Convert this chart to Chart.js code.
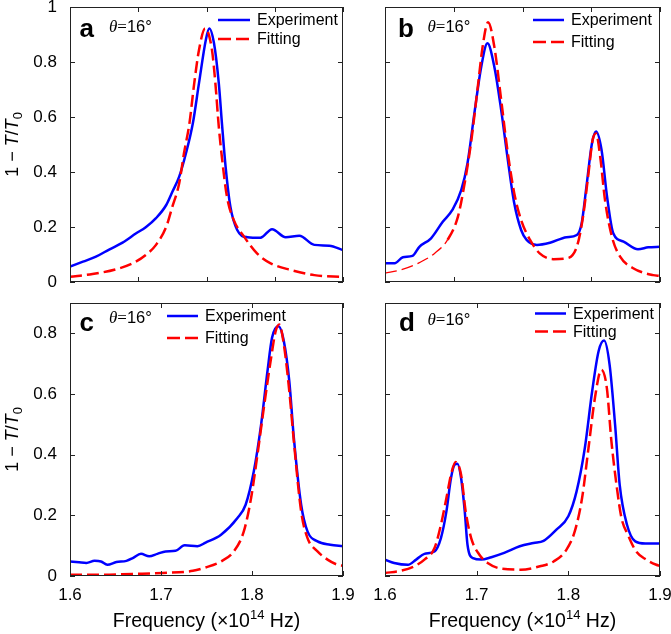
<!DOCTYPE html>
<html>
<head>
<meta charset="utf-8">
<script src="https://cdn.jsdelivr.net/npm/chart.js@4"></script>
<style>
    html, body { margin: 0; padding: 0; background: #fff; }
    #fig { position: relative; width: 671px; height: 634px; }
    #fig canvas { position: absolute; left: 0; top: 0; }
</style>
</head>
<body>
<div id="fig">
    <canvas id="chart-a" width="671" height="634"></canvas>
    <canvas id="chart-b" width="671" height="634"></canvas>
    <canvas id="chart-c" width="671" height="634"></canvas>
    <canvas id="chart-d" width="671" height="634"></canvas>
</div>
<script>
// ── data (frequency in 1e14 Hz, absorption 1 - T/T0) ──────────────────────
const aExpFreq = [1.600, 1.619, 1.638, 1.658, 1.677, 1.697, 1.711, 1.726, 1.741, 1.750, 1.760, 1.770, 1.780, 1.789, 1.799, 1.804, 1.811, 1.818, 1.823, 1.828, 1.835, 1.845, 1.860, 1.879, 1.896, 1.916, 1.936, 1.958, 1.980, 2.000];
const aExp = [0.056, 0.074, 0.092, 0.119, 0.143, 0.177, 0.199, 0.232, 0.280, 0.328, 0.383, 0.469, 0.577, 0.723, 0.880, 0.922, 0.868, 0.723, 0.565, 0.419, 0.274, 0.189, 0.163, 0.161, 0.192, 0.163, 0.168, 0.135, 0.132, 0.116];
const aFitFreq = [1.600, 1.633, 1.667, 1.692, 1.711, 1.726, 1.741, 1.750, 1.760, 1.767, 1.775, 1.782, 1.789, 1.798, 1.808, 1.813, 1.818, 1.823, 1.830, 1.840, 1.855, 1.874, 1.894, 1.923, 1.958, 2.000];
const aFit = [0.019, 0.029, 0.046, 0.068, 0.098, 0.135, 0.201, 0.274, 0.359, 0.468, 0.577, 0.722, 0.844, 0.922, 0.844, 0.723, 0.565, 0.444, 0.310, 0.225, 0.165, 0.104, 0.068, 0.044, 0.025, 0.018];

const bExpFreq = [1.600, 1.614, 1.626, 1.640, 1.650, 1.667, 1.684, 1.698, 1.711, 1.720, 1.730, 1.740, 1.749, 1.759, 1.769, 1.778, 1.788, 1.798, 1.806, 1.821, 1.840, 1.864, 1.879, 1.886, 1.893, 1.901, 1.907, 1.915, 1.923, 1.932, 1.947, 1.968, 1.983, 2.000];
const bExp = [0.068, 0.068, 0.090, 0.095, 0.128, 0.159, 0.219, 0.262, 0.335, 0.432, 0.613, 0.783, 0.868, 0.783, 0.625, 0.456, 0.286, 0.189, 0.153, 0.135, 0.143, 0.163, 0.171, 0.213, 0.347, 0.504, 0.547, 0.480, 0.310, 0.177, 0.147, 0.119, 0.126, 0.128];
const bFitFreq = [1.600, 1.623, 1.648, 1.672, 1.691, 1.706, 1.715, 1.725, 1.735, 1.742, 1.750, 1.759, 1.769, 1.778, 1.788, 1.798, 1.811, 1.825, 1.845, 1.864, 1.879, 1.888, 1.896, 1.902, 1.907, 1.913, 1.920, 1.930, 1.942, 1.961, 1.990, 2.000];
const bFit = [0.032, 0.044, 0.068, 0.104, 0.153, 0.237, 0.347, 0.504, 0.710, 0.856, 0.945, 0.856, 0.662, 0.480, 0.323, 0.225, 0.153, 0.104, 0.083, 0.086, 0.128, 0.237, 0.395, 0.516, 0.540, 0.456, 0.298, 0.165, 0.092, 0.050, 0.025, 0.022];

const cExpFreq = [1.600, 1.610, 1.618, 1.627, 1.634, 1.641, 1.651, 1.662, 1.669, 1.678, 1.687, 1.696, 1.705, 1.716, 1.726, 1.740, 1.749, 1.766, 1.784, 1.793, 1.802, 1.810, 1.817, 1.822, 1.829, 1.835, 1.841, 1.846, 1.854, 1.861, 1.872, 1.886, 1.900];
const cExp = [0.048, 0.045, 0.043, 0.050, 0.048, 0.037, 0.046, 0.050, 0.059, 0.073, 0.065, 0.073, 0.081, 0.083, 0.101, 0.098, 0.110, 0.136, 0.191, 0.235, 0.345, 0.499, 0.675, 0.785, 0.823, 0.774, 0.642, 0.455, 0.235, 0.147, 0.114, 0.103, 0.098];
const cFitFreq = [1.600, 1.632, 1.669, 1.702, 1.735, 1.749, 1.766, 1.780, 1.791, 1.799, 1.806, 1.813, 1.821, 1.826, 1.830, 1.835, 1.841, 1.846, 1.854, 1.861, 1.872, 1.883, 1.894, 1.900];
const cFit = [0.004, 0.004, 0.007, 0.010, 0.017, 0.028, 0.048, 0.081, 0.147, 0.257, 0.400, 0.554, 0.719, 0.807, 0.829, 0.763, 0.609, 0.444, 0.213, 0.125, 0.081, 0.054, 0.037, 0.034];

const dExpFreq = [1.600, 1.610, 1.625, 1.634, 1.643, 1.654, 1.661, 1.667, 1.672, 1.676, 1.679, 1.683, 1.687, 1.690, 1.696, 1.705, 1.716, 1.730, 1.747, 1.762, 1.773, 1.787, 1.800, 1.809, 1.818, 1.826, 1.833, 1.839, 1.845, 1.851, 1.856, 1.864, 1.873, 1.884, 1.900];
const dExp = [0.054, 0.043, 0.037, 0.054, 0.073, 0.081, 0.125, 0.213, 0.323, 0.367, 0.370, 0.323, 0.213, 0.103, 0.059, 0.054, 0.062, 0.076, 0.098, 0.109, 0.116, 0.153, 0.197, 0.279, 0.422, 0.609, 0.741, 0.776, 0.697, 0.499, 0.301, 0.169, 0.114, 0.107, 0.107];
const dFitFreq = [1.600, 1.617, 1.632, 1.643, 1.654, 1.661, 1.667, 1.672, 1.677, 1.683, 1.688, 1.694, 1.703, 1.712, 1.727, 1.748, 1.769, 1.784, 1.798, 1.807, 1.815, 1.822, 1.829, 1.836, 1.842, 1.847, 1.853, 1.858, 1.865, 1.874, 1.885, 1.896, 1.900];
const dFit = [0.010, 0.017, 0.032, 0.054, 0.092, 0.169, 0.257, 0.334, 0.376, 0.334, 0.213, 0.125, 0.070, 0.043, 0.024, 0.021, 0.032, 0.048, 0.087, 0.147, 0.257, 0.422, 0.587, 0.680, 0.620, 0.444, 0.290, 0.191, 0.136, 0.081, 0.054, 0.037, 0.033];

// tick positions
const xTicksTop = [1.6, 1.7, 1.8, 1.9, 2.0];
const xTicksBottom = [1.6, 1.7, 1.8, 1.9];
const yTicksTop = [0, 0.2, 0.4, 0.6, 0.8, 1];
const yTicksBottom = [0, 0.2, 0.4, 0.6, 0.8];

const SANS = '"Liberation Sans", Arial, Helvetica, sans-serif';
const SERIF = '"Liberation Serif", "Times New Roman", serif';
const FIG_W = 671;
const FIG_H = 634;
const X_AXIS_H = 30;

function pts(xs, ys) {
    return xs.map((x, i) => ({ x, y: ys[i] }));
}

function fmt(v) {
    return String(Math.round(v * 10) / 10);
}

function drawRuns(ctx, runs, x, y, align) {
    let total = 0;
    runs.forEach((r) => { ctx.font = r.font; total += ctx.measureText(r.text).width; });
    let cx = align === 'center' ? x - total / 2 : x;
    runs.forEach((r) => {
        ctx.font = r.font;
        ctx.fillText(r.text, cx, y + (r.dy || 0));
        cx += ctx.measureText(r.text).width;
    });
}

// box, inward ticks, legend and annotations
function makeDecor(cfg) {
    return {
        id: 'panelDecor',
        afterDraw(chart) {
            const { ctx, chartArea: a } = chart;
            const xs = chart.scales.x;
            const ys = chart.scales.y;
            ctx.save();
            ctx.strokeStyle = '#222';
            ctx.lineWidth = 1;
            ctx.strokeRect(a.left + 0.5, a.top + 0.5, a.width - 1, a.height - 1);
            ctx.beginPath();
            cfg.yTicks.forEach((v) => {
                const p = Math.round(ys.getPixelForValue(v)) + 0.5;
                ctx.moveTo(a.left, p); ctx.lineTo(a.left + 5, p);
                ctx.moveTo(a.right, p); ctx.lineTo(a.right - 5, p);
            });
            cfg.xTicks.forEach((v) => {
                const p = Math.round(xs.getPixelForValue(v)) + 0.5;
                ctx.moveTo(p, a.bottom); ctx.lineTo(p, a.bottom - 5);
                ctx.moveTo(p, a.top); ctx.lineTo(p, a.top + 5);
            });
            ctx.stroke();

            // legend
            const lg = cfg.legend;
            ctx.textAlign = 'left';
            ctx.textBaseline = 'middle';
            chart.data.datasets.forEach((ds, i) => {
                const y = a.top + lg.dy + i * lg.gap;
                const x0 = a.left + lg.dx;
                ctx.strokeStyle = ds.borderColor;
                ctx.lineWidth = 2.5;
                ctx.setLineDash(ds.borderDash ? [13, 5] : []);
                ctx.beginPath();
                ctx.moveTo(x0, y);
                ctx.lineTo(x0 + lg.len, y);
                ctx.stroke();
                ctx.setLineDash([]);
                ctx.fillStyle = '#000';
                ctx.font = `16px ${SANS}`;
                ctx.fillText(ds.label, x0 + lg.len + 7, y + 1);
            });

            // panel letter and angle
            ctx.textBaseline = 'alphabetic';
            ctx.fillStyle = '#000';
            ctx.font = `bold 26px ${SANS}`;
            ctx.fillText(cfg.letter, a.left + cfg.letterPos[0], a.top + cfg.letterPos[1]);
            drawRuns(ctx, [
                { text: 'θ', font: `italic 17px ${SERIF}` },
                { text: '=', font: `17px ${SERIF}` },
                { text: '16°', font: `16.5px ${SANS}` },
            ], a.left + cfg.thetaPos[0], a.top + cfg.thetaPos[1], 'left');

            if (cfg.yTitle) {
                ctx.save();
                ctx.translate(a.left - 57, (a.top + a.bottom) / 2);
                ctx.rotate(-Math.PI / 2);
                ctx.textBaseline = 'middle';
                drawRuns(ctx, [
                    { text: '1 − ', font: `18px ${SANS}` },
                    { text: 'T', font: `italic 18px ${SANS}` },
                    { text: '/', font: `18px ${SANS}` },
                    { text: 'T', font: `italic 18px ${SANS}` },
                    { text: '0', font: `13px ${SANS}`, dy: 5 },
                ], 0, 0, 'center');
                ctx.restore();
            }
            if (cfg.xTitle) {
                ctx.textBaseline = 'alphabetic';
                drawRuns(ctx, [
                    { text: 'Frequency (×10', font: `19.5px ${SANS}` },
                    { text: '14', font: `13px ${SANS}`, dy: -8 },
                    { text: ' Hz)', font: `19.5px ${SANS}` },
                ], (a.left + a.right) / 2, a.bottom + 51, 'center');
            }
            ctx.restore();
        },
    };
}

function makeChart(cfg) {
    const area = cfg.area;
    const tickFont = { family: SANS, size: 17 };
    return new Chart(document.getElementById(cfg.id), {
        type: 'line',
        data: {
            datasets: [
                {
                    label: 'Experiment',
                    data: pts(cfg.expFreq, cfg.exp),
                    borderColor: '#0000ff',
                    borderWidth: 2.5,
                    pointRadius: 0,
                    cubicInterpolationMode: 'monotone',
                    order: 2,
                },
                {
                    label: 'Fitting',
                    data: pts(cfg.fitFreq, cfg.fit),
                    borderColor: '#ff0000',
                    borderWidth: 2.5,
                    borderDash: [12, 5],
                    pointRadius: 0,
                    cubicInterpolationMode: 'monotone',
                    order: 1,
                    segment: cfg.fitSegment || {},
                },
            ],
        },
        options: {
            responsive: false,
            animation: false,
            events: [],
            layout: {
                padding: {
                    left: 0,
                    right: FIG_W - area.right,
                    top: area.top,
                    bottom: FIG_H - area.bottom - X_AXIS_H,
                },
            },
            plugins: { legend: { display: false }, tooltip: { enabled: false } },
            scales: {
                x: {
                    type: 'linear',
                    min: cfg.xMin,
                    max: cfg.xMax,
                    grid: { display: false, drawTicks: false },
                    border: { display: false },
                    afterBuildTicks: (s) => { s.ticks = cfg.xTicks.map((v) => ({ value: v })); },
                    afterFit: (s) => { s.height = X_AXIS_H; s.paddingLeft = 0; s.paddingRight = 0; },
                    ticks: { display: cfg.xTitle, padding: 9, color: '#000', font: tickFont, maxRotation: 0, autoSkip: false, callback: fmt },
                },
                y: {
                    type: 'linear',
                    min: 0,
                    max: cfg.yMax,
                    grid: { display: false, drawTicks: false },
                    border: { display: false },
                    afterBuildTicks: (s) => { s.ticks = cfg.yTicks.map((v) => ({ value: v })); },
                    afterFit: (s) => { s.width = area.left; s.paddingTop = 0; s.paddingBottom = 0; },
                    ticks: { display: cfg.yTitle, padding: 13, color: '#000', font: tickFont, autoSkip: false, callback: fmt },
                },
            },
        },
        plugins: [makeDecor(cfg)],
    });
}

makeChart({
    id: 'chart-a', letter: 'a', area: { left: 70, top: 7, right: 343, bottom: 282 },
    expFreq: aExpFreq, exp: aExp, fitFreq: aFitFreq, fit: aFit,
    xMin: 1.6, xMax: 2.0, xTicks: xTicksTop, yMax: 1, yTicks: yTicksTop,
    xTitle: false, yTitle: true,
    letterPos: [9.5, 30], thetaPos: [39, 24.5],
    legend: { dx: 148, dy: 13, gap: 19, len: 32 },
});

makeChart({
    id: 'chart-b', letter: 'b', area: { left: 385, top: 7, right: 660, bottom: 282 },
    expFreq: bExpFreq, exp: bExp, fitFreq: bFitFreq, fit: bFit,
    xMin: 1.6, xMax: 2.0, xTicks: xTicksTop, yMax: 1, yTicks: yTicksTop,
    xTitle: false, yTitle: false,
    letterPos: [13, 30], thetaPos: [42.5, 24.5],
    legend: { dx: 148, dy: 13, gap: 22, len: 31 },
    // the low-frequency tail of this fit is drawn with a thinner pen
    fitSegment: { borderWidth: (c) => (c.p1.parsed.x <= 1.70 ? 1.3 : undefined) },
});

makeChart({
    id: 'chart-c', letter: 'c', area: { left: 70, top: 303, right: 343, bottom: 576 },
    expFreq: cExpFreq, exp: cExp, fitFreq: cFitFreq, fit: cFit,
    xMin: 1.6, xMax: 1.9, xTicks: xTicksBottom, yMax: 0.9, yTicks: yTicksBottom,
    xTitle: true, yTitle: true,
    letterPos: [9.5, 28], thetaPos: [39, 20],
    legend: { dx: 97, dy: 13, gap: 22, len: 31 },
});

makeChart({
    id: 'chart-d', letter: 'd', area: { left: 385, top: 303, right: 660, bottom: 576 },
    expFreq: dExpFreq, exp: dExp, fitFreq: dFitFreq, fit: dFit,
    xMin: 1.6, xMax: 1.9, xTicks: xTicksBottom, yMax: 0.9, yTicks: yTicksBottom,
    xTitle: true, yTitle: false,
    letterPos: [14, 28], thetaPos: [42.5, 21.5],
    legend: { dx: 150, dy: 10.5, gap: 18, len: 31 },
});
</script>
</body>
</html>
